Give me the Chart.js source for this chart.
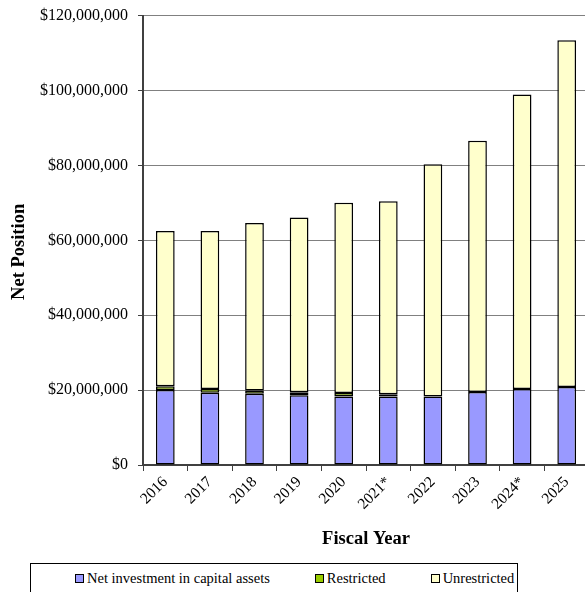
<!DOCTYPE html>
<html>
<head>
<meta charset="utf-8">
<script src="https://cdn.jsdelivr.net/npm/chart.js@4/dist/chart.umd.min.js"></script>
<style>
  html, body { margin: 0; padding: 0; background: #fff; overflow: hidden; }
  #wrap { position: relative; width: 592px; height: 592px; overflow: hidden; }
  #chartBox { position: absolute; left: 0; top: -4px; width: 592px; height: 564px; }
  #legend {
    position: absolute; left: 30px; top: 563px; width: 488px; height: 40px;
    border: 1px solid #000; box-sizing: border-box;
    font-family: "Liberation Serif", serif; font-size: 14.5px; color: #000;
    display: flex; align-items: flex-start; padding: 6px 0 0 44px;
  }
  #legend .item { display: flex; align-items: center; margin-right: 45px; white-space: nowrap; }
  #legend .sw { width: 7px; height: 7px; border: 1px solid #000; margin-right: 3px; }
</style>
</head>
<body>
<div id="wrap">
  <div id="chartBox"><canvas id="netChart"></canvas></div>
  <div id="legend"></div>
</div>
<script>
// Datos (millones de dólares)
const years = ['2016', '2017', '2018', '2019', '2020', '2021*', '2022', '2023', '2024*', '2025'];
const capitalAssets = [20.0, 19.3, 19.0, 18.6, 18.3, 18.3, 18.3, 19.5, 20.3, 20.8];
const restricted = [1.0, 1.0, 0.9, 0.8, 0.9, 0.6, 0.0, 0.0, 0.0, 0.0];
const unrestricted = [41.5, 42.2, 44.7, 46.7, 50.8, 51.5, 62.0, 67.1, 78.6, 92.6];
const seriesNames = ['Net investment in capital assets', 'Restricted', 'Unrestricted'];
const seriesColors = ['#9999FF', '#99CC00', '#FFFFCC'];

const M = 1000000;
const toDollars = arr => arr.map(v => v * M);

document.addEventListener('DOMContentLoaded', function () {
    const serif = '"Liberation Serif", "Times New Roman", serif';
    const allSeries = [capitalAssets, restricted, unrestricted];

    const datasets = allSeries.map((arr, i) => ({
        label: seriesNames[i],
        data: toDollars(arr),
        backgroundColor: seriesColors[i],
        borderColor: '#000',
        borderWidth: 1.5,
        borderSkipped: false,
        barPercentage: 0.42,
        categoryPercentage: 1.0
    }));

    const ctx = document.getElementById('netChart').getContext('2d');
    new Chart(ctx, {
        type: 'bar',
        data: { labels: years, datasets: datasets },
        options: {
            responsive: true,
            maintainAspectRatio: false,
            animation: false,
            layout: { padding: { left: 0, right: 3, top: 2, bottom: 0 } },
            plugins: {
                legend: { display: false },
                tooltip: { enabled: false }
            },
            scales: {
                x: {
                    stacked: true,
                    afterFit: function (scale) { scale.height = 95; },
                    grid: {
                        display: true,
                        drawOnChartArea: false,
                        tickLength: 6,
                        color: '#404040',
                        offset: true
                    },
                    border: { color: '#404040', width: 2 },
                    ticks: {
                        color: '#000',
                        font: { family: serif, size: 15.5 },
                        minRotation: 45,
                        maxRotation: 45,
                        padding: 2
                    },
                    title: {
                        display: true,
                        text: 'Fiscal Year',
                        color: '#000',
                        font: { family: serif, size: 18.5, weight: 'bold' },
                        padding: { top: 4, bottom: 10 }
                    }
                },
                y: {
                    stacked: true,
                    min: 0,
                    max: 120 * M,
                    afterFit: function (scale) { scale.width = 143; },
                    grid: {
                        color: '#808080',
                        lineWidth: 1,
                        tickLength: 5,
                        tickColor: '#404040'
                    },
                    border: { color: '#404040', width: 2 },
                    ticks: {
                        stepSize: 20 * M,
                        color: '#000',
                        padding: 10,
                        font: { family: serif, size: 16 },
                        callback: function (v) { return '$' + Number(v).toLocaleString('en-US'); }
                    },
                    title: {
                        display: true,
                        // espacios finales para bajar el título como en el original
                        text: 'Net Position\u00a0\u00a0\u00a0\u00a0\u00a0',
                        color: '#000',
                        font: { family: serif, size: 18.5, weight: 'bold' },
                        padding: { top: 8, bottom: 4 }
                    }
                }
            }
        }
    });

    // Leyenda en HTML con recuadro
    const legendEl = document.getElementById('legend');
    seriesNames.forEach(function (name, i) {
        const item = document.createElement('div');
        item.className = 'item';
        const sw = document.createElement('span');
        sw.className = 'sw';
        sw.style.background = seriesColors[i];
        const txt = document.createElement('span');
        txt.textContent = name;
        item.appendChild(sw);
        item.appendChild(txt);
        legendEl.appendChild(item);
    });
});
</script>
</body>
</html>
